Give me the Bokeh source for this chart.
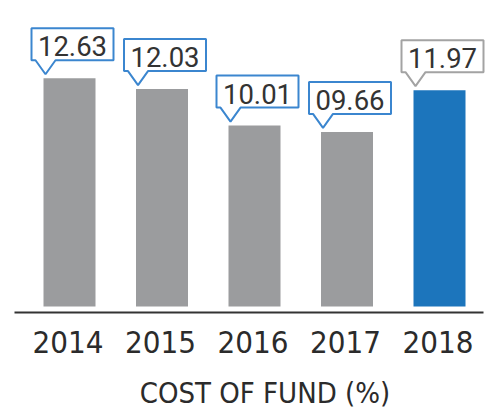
from bokeh.plotting import figure
from bokeh.models import Range1d, ColumnDataSource
from bokeh.core.properties import value
from bokeh.embed import file_html
from bokeh.resources import INLINE

# ---- data ----
years = ["2014", "2015", "2016", "2017", "2018"]
cost_of_fund = [12.63, 12.03, 10.01, 9.66, 11.97]
value_labels = ["12.63", "12.03", "10.01", "09.66", "11.97"]
bar_colors = ["#9b9c9e", "#9b9c9e", "#9b9c9e", "#9b9c9e", "#1c75bc"]
callout_colors = ["#3b86cf", "#3b86cf", "#3b86cf", "#3b86cf", "#a3a3a3"]
title_text = "COST OF FUND (%)"

# ---- layout (frame covers the whole canvas) ----
W, H = 487, 414
PX_X = 92.5      # pixels per category
PX_Y = 18.07     # pixels per percentage point
FIRST_CX = 69    # pixel x of first bar centre
ZERO_PY = 306    # pixel y (from top) of bar base
x0 = -FIRST_CX / PX_X
x1 = x0 + W / PX_X
y0 = -(H - ZERO_PY) / PX_Y
y1 = y0 + H / PX_Y

def dx(px):
    return px / PX_X

def dy(py):
    return py / PX_Y

TXT = "#2b2b2b"
FONT = "DejaVu Sans Condensed"

p = figure(width=W, height=H, x_range=Range1d(x0, x1), y_range=Range1d(y0, y1),
           output_backend="svg", toolbar_location=None,
           min_border_left=0, min_border_right=0, min_border_top=0,
           min_border_bottom=0, x_axis_location=None, y_axis_location=None)
p.outline_line_color = None
p.xgrid.grid_line_color = None
p.ygrid.grid_line_color = None
p.background_fill_color = "white"
p.border_fill_color = "white"

idx = list(range(len(years)))
src = ColumnDataSource(dict(x=idx, top=cost_of_fund, color=bar_colors))
p.vbar(x="x", top="top", bottom=0, width=dx(52), fill_color="color",
       line_color=None, source=src)

# baseline (category axis line)
axis_y = dy(-6)
p.line(x=[dx(14 - FIRST_CX), dx(483 - FIRST_CX)], y=[axis_y, axis_y],
       line_color="#333333", line_width=2)

# callouts (box with pointer), geometry in pixels relative to bar centre / top
xs, ys = [], []
for i, v in zip(idx, cost_of_fund):
    L, R = -38, 44
    B, T = 18, 50
    pts = [(L, B), (-34, B), (-24, 4), (-14, B), (R, B), (R, T), (L, T)]
    xs.append([i + dx(px) for px, _ in pts])
    ys.append([v + dy(py) for _, py in pts])
p.patches(xs=xs, ys=ys, fill_color="white", line_color=callout_colors, line_width=2)

p.text(x=[i + dx(3) for i in idx], y=[v + dy(32) for v in cost_of_fund],
       text=value_labels, text_font=value("Roboto"), text_font_size="27.5px",
       text_align="center", text_baseline="middle", text_color="#333333")

# category labels
p.text(x=[i - dx(1.5) for i in idx], y=[dy(-35.5)] * len(idx), text=years,
       text_font=value(FONT), text_font_size="31px", text_align="center",
       text_baseline="middle", text_color=TXT)

# chart caption below the axis
p.text(x=[2 + dx(10.5)], y=[dy(-86.5)], text=[title_text],
       text_font=value(FONT), text_font_size="29px", text_align="center",
       text_baseline="middle", text_color=TXT)

open("out.html", "w").write(file_html(p, INLINE))
